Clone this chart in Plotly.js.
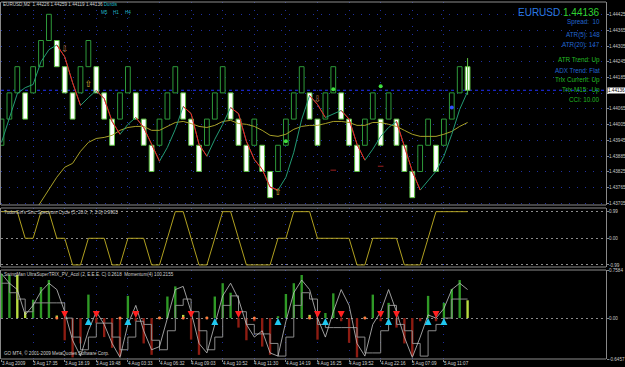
<!DOCTYPE html>
<html><head><meta charset="utf-8">
<script src="https://cdn.plot.ly/plotly-3.0.1.min.js"></script>
<style>html,body{margin:0;padding:0;background:#000;}#chart{width:625px;height:367px;}</style>
</head><body><div id="chart"></div>
<script>
// ---- Renko bricks (EURUSD, 10-pip bricks) ----
const brickOpen = [1.43926,1.44026,1.44126,1.44126,1.44126,1.44226,1.44326,1.44326,1.44226,1.44126,
1.44126,1.44226,1.44226,1.44126,1.44026,1.44026,1.44126,1.44126,1.44026,1.43926,
1.43926,1.44026,1.44126,1.44126,1.44026,1.43926,1.43926,1.44026,1.44126,1.44126,
1.44026,1.43926,1.43926,1.43926,1.43826,1.43826,1.43926,1.44026,1.44126,1.44126,
1.44026,1.44026,1.44126,1.44126,1.44026,1.43926,1.43926,1.44026,1.44026,1.44026,
1.44026,1.43926,1.43826,1.43826,1.43926,1.43926,1.43926,1.44026,1.44126,1.44226];
const brickClose = [1.44026,1.44126,1.44226,1.44026,1.44226,1.44326,1.44426,1.44226,1.44126,1.44026,
1.44226,1.44326,1.44126,1.44026,1.43926,1.44126,1.44226,1.44026,1.43926,1.43826,
1.44026,1.44126,1.44226,1.44026,1.43926,1.43826,1.44026,1.44126,1.44226,1.44026,
1.43926,1.43826,1.44026,1.43826,1.43726,1.43926,1.44026,1.44126,1.44226,1.44026,
1.43926,1.44126,1.44226,1.44026,1.43926,1.43826,1.44026,1.44126,1.43926,1.44126,
1.43926,1.43826,1.43726,1.43926,1.44026,1.43826,1.44026,1.44126,1.44226,1.44136];
const lastHigh = 1.44259, lastLow = 1.44119;

const maFast = [1.43937,1.44032,1.44123,1.44146,1.44158,1.44245,1.44291,1.44309,1.44264,1.44165,
1.44078,1.44108,1.44135,1.44104,1.44017,1.43968,1.44006,1.44032,1.43994,1.43930,
1.43865,1.43918,1.43987,1.44074,1.44047,1.43930,1.43884,1.43949,1.44006,1.44070,
1.44047,1.43941,1.43872,1.43834,1.43766,1.43755,1.43804,1.43899,1.44025,1.44116,
1.44082,1.44032,1.44047,1.44059,1.44026,1.43930,1.43869,1.43911,1.43960,1.43994,
1.44017,1.43922,1.43827,1.43755,1.43789,1.43827,1.43884,1.43968,1.44063,1.44131];
const maSlow = [null,null,null,null,1.43664,1.43709,1.43759,1.43804,1.43842,1.43857,
1.43903,1.43937,1.43952,1.43956,1.43964,1.43983,1.43994,1.43998,1.43998,1.43983,
1.43983,1.43998,1.44013,1.44017,1.44009,1.43998,1.43994,1.44002,1.44017,1.44021,
1.44009,1.44006,1.43998,1.43983,1.43964,1.43960,1.43968,1.43987,1.43998,1.44002,
1.44002,1.44009,1.44017,1.44017,1.44013,1.44002,1.44002,1.44013,1.44013,1.44006,
1.43998,1.43983,1.43968,1.43960,1.43960,1.43960,1.43968,1.43979,1.43998,1.44013];

const sigDownBricks = [9,41], sigDownPrices = [1.44290,1.44099];
const sigUpBricks = [12,36], sigUpPrices = [1.44156,1.43746];
const greenDotBricks = [37,43,49], greenDotPrices = [1.43941,1.44140,1.44151];
const blueDotBricks = [58], blueDotPrices = [1.44070];
const redDashBricks = [43,49], redDashPrices = [1.43831,1.43846];
const priceTicks = [1.44425,1.44365,1.44305,1.44245,1.44185,1.44125,1.44065,1.44005,1.43945,1.43885,1.43825,1.43765,1.43705];

// ---- Sinc Spectrum Cycle ----
const sincCycle = [0.99,0.99,0.99,0,0,0.99,0.99,0,0,-0.99,
-0.99,0,0,0,-0.99,-0.99,0,0,0,-0.99,
-0.99,0,0.99,0.99,0,-0.99,-0.99,0,0.99,0.99,
0,-0.99,-0.99,-0.99,-0.99,0,0,0.99,0.99,0.99,
0,0,0,0,0,-0.99,-0.99,0,0,0,
0,-0.99,-0.99,-0.99,0,0.99,0.99,0.99,0.99,0.99];
const sincLevels = [0.99,0,-0.99];

// ---- SwingMan UltraSuperTRIX ----
const trixHist = [0.70,0.68,0.68,0.10,0.29,0.49,0.60,0.04,-0.35,-0.62,
-0.40,0.37,-0.08,-0.30,-0.47,-0.60,0.35,-0.05,-0.40,-0.58,
0.02,0.34,0.50,0.05,-0.34,-0.58,0.02,0.34,0.55,0.40,
-0.15,-0.35,-0.05,-0.45,-0.58,0.03,0.38,0.55,0.68,0.05,
-0.34,0.08,0.39,-0.05,-0.39,-0.62,0.02,0.37,-0.05,0.24,
-0.15,-0.40,-0.60,-0.05,0.35,-0.05,0.24,0.46,0.60,0.28];
const trixKind = ['g','g','y','y','g','g','g','y','r','r',
'r','g','r','r','r','r','g','r','r','r',
'y','g','g','y','r','r','y','g','g','g',
'r','r','r','r','r','g','g','g','g','y',
'r','g','g','r','r','r','y','g','r','g',
'r','r','r','r','g','r','g','g','g','y'];
const trixLine = [0.70,0.55,0.45,0.05,0.20,0.42,0.55,0.45,0.10,-0.35,
-0.60,-0.20,0.10,-0.10,-0.40,-0.62,-0.10,0.20,-0.20,-0.50,
-0.45,0.00,0.45,0.50,0.10,-0.40,-0.55,-0.10,0.35,0.55,
0.30,-0.10,-0.30,-0.20,-0.55,-0.60,-0.05,0.40,0.60,0.45,
0.00,-0.30,0.10,0.45,0.20,-0.40,-0.60,-0.10,0.10,0.45,
0.10,-0.30,-0.62,-0.30,0.05,0.00,0.15,0.45,0.55,0.45];
const trixStep = [0.55,0.40,0.30,0.10,0.24,0.24,0.24,0.24,0.00,-0.30,
-0.50,-0.30,-0.08,-0.08,-0.30,-0.50,-0.30,-0.05,-0.10,-0.35,
-0.50,-0.20,0.20,0.30,0.10,-0.20,-0.50,-0.30,0.20,0.35,
0.10,-0.10,-0.25,-0.25,-0.40,-0.60,-0.30,0.20,0.40,0.30,
-0.10,-0.15,-0.15,-0.15,-0.15,-0.30,-0.55,-0.55,-0.20,0.20,
-0.10,-0.20,-0.40,-0.60,-0.20,-0.10,0.00,0.30,0.30,0.30];
const upArrowBricks = [12,17,28,36,42,50,55,57];
const downArrowBricks = [9,13,18,25,31,41,44,49,51,56];
const dotBricks = [8,16,21,24,27,33,40,47];
const trixMax = 0.7584, trixMin = -0.6457;

// ---- time axis ----
const timeBricks = [1,5,9,13,17,21,25,29,33,37,41,45,49,53,57];
const timeLabels = ["3 Aug 2009","3 Aug 17:35","3 Aug 18:19","3 Aug 19:48","4 Aug 03:33","4 Aug 06:32","4 Aug 09:03","4 Aug 10:52","4 Aug 11:30","4 Aug 14:19","4 Aug 16:25","4 Aug 19:52","4 Aug 22:16","5 Aug 07:09","5 Aug 11:07"];

// ---------------------------------------------
(function () {
const idx = brickOpen.map((_, i) => i + 1);
const nLast = idx.length;
const lastOpen = brickOpen[nLast-1], lastClose = brickClose[nLast-1];
const down = brickOpen.map((o, i) => brickClose[i] < o);
const F = 'Liberation Sans, Arial, sans-serif';
const small = 4.6;

const traces = [];
traces.push({x:[nLast,nLast], y:[lastLow,lastHigh], mode:'lines', line:{color:'#5cc040', width:1}, xaxis:'x', yaxis:'y'});
traces.push({type:'bar', x:idx, base:brickOpen.map((o,i)=>Math.min(o,brickClose[i])),
  y:brickOpen.map((o,i)=>Math.abs(brickClose[i]-o)), width:0.6,
  marker:{color:down.map(d=>d?'#ffffff':'#000000'), line:{color:down.map(d=>d?'#5cc040':'#2e9a3a'), width:1}},
  xaxis:'x', yaxis:'y'});
traces.push({x:idx, y:maSlow, mode:'lines', line:{color:'#a8a028', width:1}, xaxis:'x', yaxis:'y'});
traces.push({x:idx, y:maFast, mode:'lines', line:{color:'#239b74', width:1}, xaxis:'x', yaxis:'y'});
const rx = [], ry = [];
for (let i = 0; i < maFast.length-1; i++) {
  if (maFast[i+1] < maFast[i]) { rx.push(idx[i], idx[i+1], null); ry.push(maFast[i], maFast[i+1], null); }
}
traces.push({x:rx, y:ry, mode:'lines', line:{color:'#ff1a1a', width:1}, connectgaps:false, xaxis:'x', yaxis:'y'});
traces.push({x:sigDownBricks, y:sigDownPrices, mode:'text', text:sigDownBricks.map(()=>'⇩'), textfont:{color:'#b87838', size:9, family:'DejaVu Sans'}, xaxis:'x', yaxis:'y'});
traces.push({x:sigUpBricks, y:sigUpPrices, mode:'text', text:sigUpBricks.map(()=>'⇧'), textfont:{color:'#d8b030', size:9, family:'DejaVu Sans'}, xaxis:'x', yaxis:'y'});
traces.push({x:greenDotBricks, y:greenDotPrices, mode:'markers', marker:{color:'#40e040', size:4}, xaxis:'x', yaxis:'y'});
traces.push({x:blueDotBricks, y:blueDotPrices, mode:'markers', marker:{color:'#3050ff', size:4}, xaxis:'x', yaxis:'y'});
traces.push({x:redDashBricks, y:redDashPrices, mode:'markers', marker:{color:'#a02020', size:4, symbol:'line-ew', line:{color:'#a02020', width:1}}, xaxis:'x', yaxis:'y'});
traces.push({x:idx, y:sincCycle, mode:'lines', line:{color:'#b0a020', width:1}, xaxis:'x', yaxis:'y2'});
const kc = {g:'#2f9a26', r:'#8e1c12', y:'#b8dc40'};
traces.push({type:'bar', x:idx, y:trixHist, width:0.3, marker:{color:trixKind.map(k=>kc[k])}, xaxis:'x', yaxis:'y3'});
traces.push({x:idx, y:trixStep, mode:'lines', line:{color:'#8a8a8a', width:1, shape:'hv'}, xaxis:'x', yaxis:'y3'});
traces.push({x:idx, y:trixLine, mode:'lines', line:{color:'#c4c4c4', width:0.8}, xaxis:'x', yaxis:'y3'});
traces.push({x:dotBricks, y:dotBricks.map(()=>0), mode:'markers', marker:{color:'#ff7840', size:3}, xaxis:'x', yaxis:'y3'});
traces.push({x:upArrowBricks, y:upArrowBricks.map(()=>0), mode:'markers', marker:{color:'#20c8f0', size:7, symbol:'arrow-up'}, xaxis:'x', yaxis:'y3'});
traces.push({x:downArrowBricks, y:downArrowBricks.map(()=>0), mode:'markers', marker:{color:'#ff2020', size:7, symbol:'arrow-down'}, xaxis:'x', yaxis:'y3'});

const H = 367, topPx = 2, botPx = 359, ph = botPx - topPx;
const py = v => (botPx - v) / ph;
const dMain = [py(205), 1], dS1 = [py(267), py(208)], dS2 = [0, py(270)];
const grid = '#2030a0', gd = '1px,7px', axc = '#888888', tf = {family:F, size:small, color:'#c8c8c8'};

const shapes = [];
[1, dMain[0], dS1[1], dS1[0], dS2[1], 0].forEach(v => shapes.push({type:'line', xref:'paper', yref:'paper', x0:0, x1:1, y0:v, y1:v, line:{color:'#8c8c8c', width:1}}));
shapes.push({type:'line', xref:'paper', yref:'y', x0:0, x1:1, y0:lastClose, y1:lastClose, line:{color:'#2030ff', width:1, dash:'dot'}, layer:'below'});

const ann = [];
const A = (x, y, text, opts) => ann.push(Object.assign({xref:'paper', yref:'paper', x:x, y:y, text:text, showarrow:false, xanchor:'left', yanchor:'middle', borderpad:0, font:{family:F, size:small, color:'#d0d0d0'}}, opts||{}));
A(0.002, py(5), 'EURUSD,M2  ' + [lastOpen, lastHigh, lastLow, lastClose].map(v=>v.toFixed(5)).join(' ') + ' <span style="color:#20b8c8">Durdis</span>');
[['M5',0.164],['H1',0.184],['H4',0.204]].forEach(t => {
  A(t[1], py(12), t[0], {font:{family:F, size:small, color:'#20b8c8'}});
  A(t[1]+0.004, py(17), '·', {font:{family:F, size:6, color:'#20b8c8'}});
});
const rx0 = (601 - 1) / 605;
A(rx0, py(12.5), '<span style="color:#2a78e0">EURUSD</span> <span style="color:#30d030">' + lastClose.toFixed(5) + '</span>', {xanchor:'right', font:{family:F, size:10}});
const info = [['Spread:  10',22,'#2266d0'],['ATR(5): 148',35,'#2266d0'],['ATR(20): 147',44.5,'#2266d0'],['ATR Trend: Up',60,'#22b822'],['ADX Trend: Flat',70,'#2266d0'],['Trix Current: Up',80,'#22b822'],['Trix M15:  Up',90,'#22b822'],['CCI: 10.00',99.5,'#22b822']];
info.forEach(r => A(rx0, py(r[1]), r[0], {xanchor:'right', font:{family:F, size:6.3, color:r[2]}}));
A(0.004, py(212.5), "TudorGirl's Sinc Spectrum Cycle (5, 20.0, 7, 3.0) 0.9903", {font:{family:F, size:small, color:'#d0d0d0'}});
A(0.004, py(274.5), 'SwingMan UltraSuperTRIX_PV_Acol (2, E.E.E. C) 0.2618  Momentum(4) 100.2155', {font:{family:F, size:small, color:'#d0d0d0'}});
A(0.004, py(353), 'GO MT4, © 2001-2009 MetaQuotes Software Corp.', {font:{family:F, size:small, color:'#d0d0d0'}});
timeBricks.forEach((b, i) => ann.push({xref:'x', yref:'paper', x:b, y:0, yanchor:'top', xanchor:'left', xshift:-1, yshift:-1, borderpad:0, text:timeLabels[i], showarrow:false, font:{family:F, size:small, color:'#d0d0d0'}}));
ann.push({xref:'paper', yref:'y', x:1, y:lastClose, xanchor:'left', yanchor:'middle', xshift:1, text:lastClose.toFixed(5), showarrow:false, bgcolor:'#ffffff', borderpad:0, font:{family:F, size:small, color:'#000000'}});

const yCommon = {side:'right', ticks:'outside', ticklen:2, tickcolor:axc, tickfont:tf, ticklabelstandoff:-1, showline:true, mirror:true, linecolor:axc, zeroline:false};
const layout = {
  width:625, height:H, paper_bgcolor:'#000000', plot_bgcolor:'#000000',
  margin:{l:1, r:19, t:topPx, b:H-botPx}, showlegend:false, barmode:'overlay', hovermode:false,
  xaxis:{range:[0.937, 77.52], anchor:'y3', showgrid:true, gridcolor:grid, griddash:gd, tickvals:timeBricks, ticks:'outside', ticklen:2, tickcolor:axc, showticklabels:false, zeroline:false, showline:false},
  yaxis:Object.assign({domain:dMain, range:[1.43698, 1.44473], tickvals:priceTicks, ticktext:priceTicks.map(v=>Math.abs(v-lastClose)<0.0002?'':v.toFixed(5)), showgrid:true, gridcolor:grid, griddash:gd}, yCommon),
  yaxis2:Object.assign({domain:dS1, range:[-1.067, 1.126], tickvals:sincLevels, ticktext:sincLevels.map(v=>v.toFixed(2)), showgrid:true, gridcolor:'#8c8c8c', griddash:'2px,3px'}, yCommon),
  yaxis3:Object.assign({domain:dS2, range:[trixMin, trixMax], tickvals:[trixMax, 0, trixMin], ticktext:[trixMax.toFixed(4), '0.00', trixMin.toFixed(4)], showgrid:true, gridcolor:'#8c8c8c', griddash:'2px,3px'}, yCommon),
  shapes:shapes, annotations:ann
};
Plotly.newPlot('chart', traces, layout, {staticPlot:true, displayModeBar:false});
})();
</script></body></html>
